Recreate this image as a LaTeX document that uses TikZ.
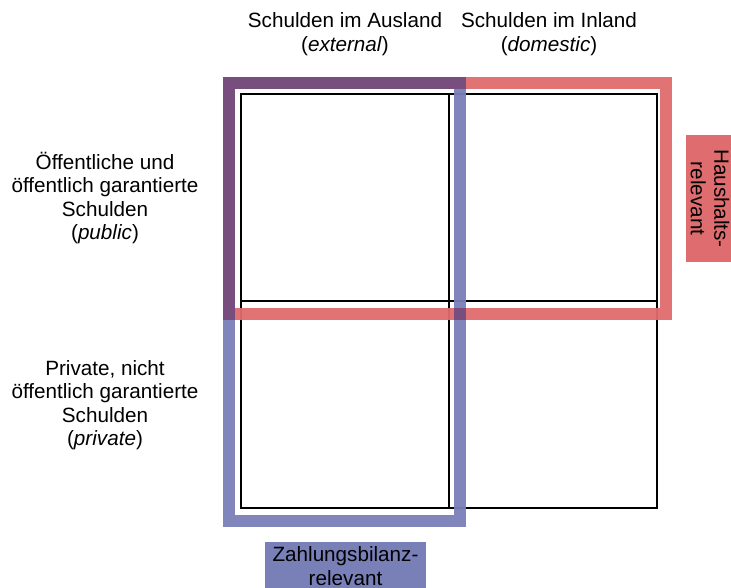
\documentclass[tikz,border=0pt]{standalone}
\usepackage{fontspec}
\setmainfont{Liberation Sans}
\usetikzlibrary{positioning}

\definecolor{hhred}{RGB}{223,108,110}
\definecolor{zbblue}{RGB}{121,128,183}
\definecolor{hhzb}{RGB}{120,76,124}

\tikzset{
  cell/.style={draw=black, line width=1.8pt, minimum width=156pt, minimum height=155.25pt, inner sep=0pt, outer sep=0pt},
  thincell/.style={cell, line width=1.1pt},
  relframe/.style={line width=9pt, opacity=0.95},
  heading/.style={align=center, font=\fontsize{15.5}{17.5}\selectfont},
  relbox/.style={heading, inner sep=0pt, outer sep=0pt},
}

\begin{document}
\begin{tikzpicture}[x=0.75pt, y=-0.75pt]
  \clip (0,0) rectangle (731,588);

  % the four kinds of debt
  \node[cell] (pubext) at (345,197.5) {};
  \node[thincell] (pubdom) [right=0pt of pubext] {};
  \node[cell] (privext) [below=0pt of pubext] {};
  \node[thincell] (privdom) [right=0pt of privext] {};
  \node[cell] at (pubext) {};

  % relevance frames
  \draw[relframe, hhred] (229,83) rectangle (666,314);
  \draw[relframe, zbblue] (229,83) rectangle (460,521);
  \draw[relframe, hhzb] (229,320) -- (229,83) -- (466,83);
  \fill[hhzb, opacity=0.95] (454,308) rectangle (466,320);

  % headings
  \node[heading] (ext) at (345,34) {Schulden im Ausland\\(\textit{external})};
  \node[heading] (dom) at (549,34) {Schulden im Inland\\(\textit{domestic})};
  \node[heading] (pub) at (105,198) {Öffentliche und\\öffentlich garantierte\\Schulden\\(\textit{public})};
  \node[heading] (priv) at (105,405) {Private, nicht\\öffentlich garantierte\\Schulden\\(\textit{private})};

  \node[relbox, fill=hhred, rotate=-90, minimum width=95.25pt, minimum height=36pt] (haus) at (710,198.5) {Haushalts-\\relevant};
  \node[relbox, fill=zbblue, minimum width=120.75pt, minimum height=36pt] (zahl) at (345.5,566) {Zahlungsbilanz-\\relevant};
\end{tikzpicture}
\end{document}
